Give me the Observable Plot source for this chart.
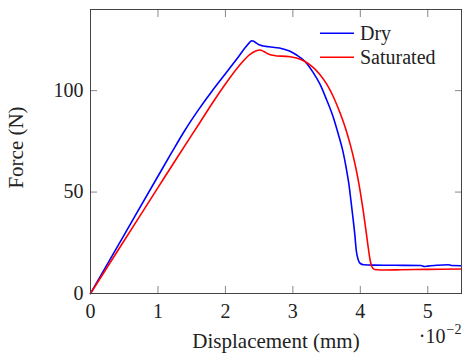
<!DOCTYPE html>
<html><head><meta charset="utf-8">
<script src="https://cdn.jsdelivr.net/npm/d3@7"></script>
<script src="https://cdn.jsdelivr.net/npm/@observablehq/plot@0.6"></script>
<style>body{margin:0;background:#fff}</style>
</head><body><div id="chart"></div>
<script>
// Displacement (mm) and force (N)
const dryX = [0,0.005,0.010,0.012,0.014,0.016,0.018,0.020,0.021,0.022,0.023,0.0236,0.0239,0.0242,0.0246,0.0250,0.0256,0.0265,0.0280,0.0295,0.0305,0.0318,0.0330,0.0340,0.0350,0.0360,0.0367,0.0374,0.0379,0.0383,0.0386,0.0389,0.0392,0.0394,0.0397,0.0400,0.0405,0.0420,0.0450,0.0490,0.0495,0.0500,0.0510,0.0530,0.0535,0.0550];
const dryY = [0,28.9,57.8,69.3,80.5,90.5,99.7,108.3,112.6,117.0,121.5,123.8,124.6,124.4,123.4,122.6,122,121.6,121,119.5,117.7,114.4,109,103.3,95.5,86.8,79,70.4,62,54,46,37.6,28.5,21.2,16.5,14.8,14.2,14,13.9,13.8,13.3,13.5,13.8,14.2,13.8,13.7];
const satX = [0,0.005,0.010,0.013,0.0162,0.0184,0.02016,0.0221,0.0236,0.0245,0.0251,0.0257,0.0263,0.0270,0.0276,0.0290,0.0300,0.0310,0.0318,0.0330,0.0340,0.0350,0.0360,0.0370,0.0378,0.0385,0.0391,0.0396,0.0400,0.0404,0.0408,0.0411,0.0414,0.0417,0.0421,0.0430,0.0460,0.0500,0.0550];
const satY = [0,26.1,52.2,67.8,84.2,95.5,104,112.5,117.8,119.5,120,119.3,118.2,117.4,117.1,116.9,116.5,115.6,114.4,111.5,108.0,103.3,97.0,89.0,81.5,73.5,65.5,57.5,50,41.5,32,24.5,17.5,13.3,11.8,11.6,11.7,11.9,12.1];
const xTicks = [0,0.01,0.02,0.03,0.04,0.05];
const xTickLabels = ["0","1","2","3","4","5"];
const yTicks = [0,50,100];
const seriesNames = ["Dry","Saturated"];
const seriesColors = ["#0000ff","#ff0000"];
const xLabel = "Displacement (mm)";
const yLabel = "Force (N)";
const xScaleBase = "·10";
const xScaleExp = "−2";

const rows = [
  ...dryX.map((x,i)=>({x, y: dryY[i], s: seriesNames[0]})),
  ...satX.map((x,i)=>({x, y: satY[i], s: seriesNames[1]}))
];

const FONT = "'Liberation Serif', 'Times New Roman', 'DejaVu Serif', serif";
const tickColor = "#888";
const chart = Plot.plot({
  width: 462, height: 356,
  marginLeft: 90, marginRight: 1, marginTop: 9, marginBottom: 63,
  style: `font-family: ${FONT}; font-size: 20px; background: white; color: #222;`,
  x: {domain: [0, 0.055]},
  y: {domain: [0, 140]},
  color: {domain: seriesNames, range: seriesColors},
  marks: [
    Plot.line(rows, {x: "x", y: "y", z: "s", stroke: "s", strokeWidth: 1.6, curve: "monotone-x"}),
    Plot.axisX({ticks: xTicks, tickSize: -7, tickFormat: () => "", label: null, stroke: tickColor}),
    Plot.axisX({anchor: "top", ticks: xTicks.slice(1), tickSize: -7, tickFormat: () => "", label: null, stroke: tickColor}),
    Plot.axisX({ticks: xTicks, tickSize: 0, tickPadding: 10, tickFormat: (d) => xTickLabels[xTicks.indexOf(d)] ?? "", label: null, fontFamily: FONT}),
    Plot.axisY({ticks: yTicks, tickSize: -7, tickFormat: () => "", label: null, stroke: tickColor}),
    Plot.axisY({anchor: "right", ticks: yTicks.slice(1), tickSize: -7, tickFormat: () => "", label: null, stroke: tickColor}),
    Plot.axisY({ticks: yTicks, tickSize: 0, tickPadding: 7, label: null, fontFamily: FONT}),
    Plot.frame({stroke: "#444", strokeWidth: 1}),
    Plot.text([xLabel], {frameAnchor: "bottom", textAnchor: "middle", lineAnchor: "middle", dy: 48, fontSize: 21, fontFamily: FONT}),
    Plot.text([yLabel], {frameAnchor: "left", textAnchor: "middle", lineAnchor: "middle", dx: -74, dy: -4, rotate: -90, fontSize: 21, fontFamily: FONT}),
    Plot.text([xScaleBase], {frameAnchor: "bottom-right", textAnchor: "end", lineAnchor: "middle", dx: -16, dy: 43.5, fontSize: 20, fontFamily: FONT}),
    Plot.text([xScaleExp], {frameAnchor: "bottom-right", textAnchor: "end", lineAnchor: "middle", dx: 0, dy: 36, fontSize: 14, fontFamily: FONT})
  ]
});
document.getElementById("chart").appendChild(chart);

// legend inside the top-right corner
const svg = d3.select(chart);
const lg = svg.append("g").attr("font-family", FONT).attr("font-size", 20).attr("text-anchor", "start");
seriesNames.forEach((name, i) => {
  const cy = 33.3 + i * 24;
  lg.append("line").attr("x1", 320).attr("x2", 354).attr("y1", cy).attr("y2", cy)
    .attr("stroke", seriesColors[i]).attr("stroke-width", 1.6);
  lg.append("text").attr("x", 360).attr("y", cy).attr("dy", "0.32em").attr("fill", "#222").text(name);
});
</script>
</body></html>
